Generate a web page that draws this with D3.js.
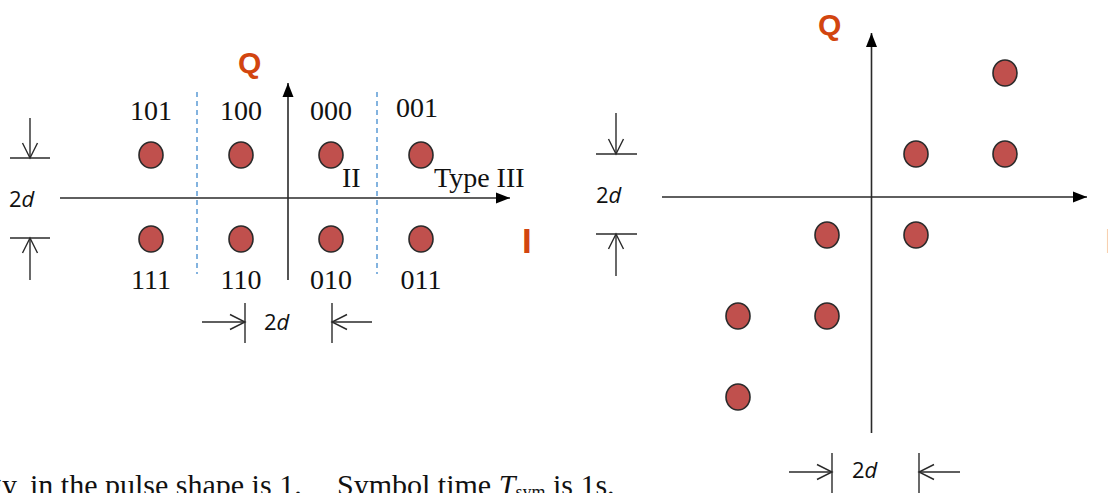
<!DOCTYPE html>
<html>
<head>
<meta charset="utf-8">
<script src="https://cdn.jsdelivr.net/npm/d3@7"></script>
<style>
  body { margin: 0; background: #fff; }
  svg { display: block; }
  .bits { font-family: "Liberation Serif", serif; font-size: 28px; fill: #111; }
  .dim { font-family: "Open Sans", "Liberation Sans", sans-serif; font-size: 22px; fill: #111; }
  .axisLbl { font-family: "Liberation Sans", Arial, sans-serif; font-weight: bold; fill: #d2450f; }
</style>
</head>
<body>
<svg id="vis-svg" width="1108" height="493"></svg>
<script>

// Data: left constellation (Type III), units of d
var leftLabels = ["101", "100", "000", "001", "111", "110", "010", "011"];
var leftI = [-3, -1, 1, 3, -3, -1, 1, 3];
var leftQ = [1, 1, 1, 1, -1, -1, -1, -1];
var leftDecision = [-2, 2];

// Data: right constellation, units of d
var rightI = [3, 1, 3, -1, 1, -3, -1, -3];
var rightQ = [3, 1, 1, -1, -1, -3, -3, -5];

var svg = d3.select('#vis-svg');
var ink = '#2a2a2a';
var dotFill = '#c0504d';

// Scales
var xL = d3.scaleLinear().domain([-1, 1]).range([241, 331]);
var yL = d3.scaleLinear().domain([-1, 1]).range([239, 155]);
var xR = d3.scaleLinear().domain([-1, 1]).range([827, 916]);
var yR = d3.scaleLinear().domain([-1, 1]).range([235, 154]);

// filled arrow head for axes
function axisArrow(g, x1, y1, x2, y2) {
  g.append('line')
    .attr('x1', x1).attr('y1', y1).attr('x2', x2).attr('y2', y2)
    .attr('stroke', ink).attr('stroke-width', 1.6);
  var a = Math.atan2(y2 - y1, x2 - x1), L = 14, W = 5.5;
  var bx = x2 - L * Math.cos(a), by = y2 - L * Math.sin(a);
  var px = -Math.sin(a) * W, py = Math.cos(a) * W;
  g.append('path')
    .attr('d', 'M' + x2 + ',' + y2 + 'L' + (bx + px) + ',' + (by + py) + 'L' + (bx - px) + ',' + (by - py) + 'Z')
    .attr('fill', '#000');
}

// open arrow for dimension marks
function dimArrow(g, x1, y1, x2, y2) {
  g.append('line')
    .attr('x1', x1).attr('y1', y1).attr('x2', x2).attr('y2', y2)
    .attr('stroke', ink).attr('stroke-width', 1.4);
  var a = Math.atan2(y2 - y1, x2 - x1), L = 15, W = 7.5;
  var bx = x2 - L * Math.cos(a), by = y2 - L * Math.sin(a);
  var px = -Math.sin(a) * W, py = Math.cos(a) * W;
  g.append('path')
    .attr('d', 'M' + (bx + px) + ',' + (by + py) + 'L' + x2 + ',' + y2 + 'L' + (bx - px) + ',' + (by - py))
    .attr('fill', 'none').attr('stroke', ink).attr('stroke-width', 1.4);
}

function tick(g, x1, y1, x2, y2) {
  g.append('line')
    .attr('x1', x1).attr('y1', y1).attr('x2', x2).attr('y2', y2)
    .attr('stroke', ink).attr('stroke-width', 1.4);
}

function twoD(g, x, y) {
  var t = g.append('text').attr('class', 'dim').attr('x', x).attr('y', y);
  t.append('tspan').text('2');
  t.append('tspan').style('font-style', 'italic').text('d');
}

// ---------- Left panel ----------
var left = svg.append('g');

// decision boundaries
left.selectAll('line.dec')
  .data(leftDecision)
  .enter().append('line')
  .attr('class', 'dec')
  .attr('x1', function(d) { return xL(d) + 1; }).attr('x2', function(d) { return xL(d) + 1; })
  .attr('y1', 92).attr('y2', 274)
  .attr('stroke', '#5b9bd5').attr('stroke-width', 1.5)
  .attr('stroke-dasharray', '5,4');

// axes
axisArrow(left, 60, 198, 510, 198);
axisArrow(left, xL(0) + 2, 280, xL(0) + 2, 83);

// points
var leftData = leftI.map(function(v, i) { return { i: v, q: leftQ[i], lab: leftLabels[i] }; });
left.selectAll('ellipse')
  .data(leftData)
  .enter().append('ellipse')
  .attr('cx', function(d) { return xL(d.i); })
  .attr('cy', function(d) { return yL(d.q); })
  .attr('rx', 12).attr('ry', 13)
  .attr('fill', dotFill).attr('stroke', ink).attr('stroke-width', 1.6);

// bit labels
left.selectAll('text.bits')
  .data(leftData)
  .enter().append('text')
  .attr('class', 'bits')
  .attr('text-anchor', 'middle')
  .attr('x', function(d) { return xL(d.i) + (d.lab === '001' ? -4 : 0); })
  .attr('y', function(d) { return d.q > 0 ? yL(d.q) - 35 + (d.lab === '001' ? -3 : 0) : yL(d.q) + 50; })
  .text(function(d) { return d.lab; });

left.append('text').attr('class', 'bits').attr('x', 342).attr('y', 187).text('II');
left.append('text').attr('class', 'bits').attr('x', 434).attr('y', 187).text('Type III');

left.append('text').attr('class', 'axisLbl').style('font-size', '30px')
  .attr('x', 238).attr('y', 73).text('Q');
left.append('text').attr('class', 'axisLbl').style('font-size', '35px')
  .attr('x', 522).attr('y', 253).text('I');

// vertical 2d
tick(left, 10, 158, 50, 158);
tick(left, 10, 238, 50, 238);
dimArrow(left, 30, 118, 30, 158);
dimArrow(left, 30, 280, 30, 238);
twoD(left, 9, 207);

// horizontal 2d
tick(left, xL(-1) + 4, 303, xL(-1) + 4, 343);
tick(left, xL(1) + 1, 303, xL(1) + 1, 343);
dimArrow(left, 202, 322, xL(-1) + 4, 322);
dimArrow(left, 372, 322, xL(1) + 1, 322);
twoD(left, 264, 330);

// ---------- Right panel ----------
var right = svg.append('g');

axisArrow(right, 662, 197, 1087, 197);
axisArrow(right, xR(0), 433, xR(0), 33);

right.selectAll('ellipse')
  .data(rightI.map(function(v, i) { return { i: v, q: rightQ[i] }; }))
  .enter().append('ellipse')
  .attr('cx', function(d) { return xR(d.i); })
  .attr('cy', function(d) { return yR(d.q); })
  .attr('rx', 12).attr('ry', 13)
  .attr('fill', dotFill).attr('stroke', ink).attr('stroke-width', 1.6);

right.append('text').attr('class', 'axisLbl').style('font-size', '30px')
  .attr('x', 818).attr('y', 35).text('Q');
right.append('text').attr('class', 'axisLbl').style('font-size', '35px')
  .attr('x', 1105).attr('y', 253).style('opacity', 0.35).text('I');

// vertical 2d
tick(right, 596, yR(1), 637, yR(1));
tick(right, 596, yR(-1) - 1, 637, yR(-1) - 1);
dimArrow(right, 616, 113, 616, yR(1));
dimArrow(right, 616, 276, 616, yR(-1) - 1);
twoD(right, 596, 203);

// horizontal 2d
tick(right, 832, 453, 832, 495);
tick(right, 919, 453, 919, 495);
dimArrow(right, 789, 472, 832, 472);
dimArrow(right, 960, 472, 919, 472);
twoD(right, 852, 478);

// ---------- cut-off caption ----------
var cap = svg.append('text')
  .attr('y', 495)
  .style('font-family', '"Liberation Serif", serif')
  .style('font-size', '30px')
  .attr('fill', '#111');
cap.append('tspan').attr('x', -13).text('gy');
cap.append('tspan').attr('x', 30).text('in the pulse shape is 1.');
cap.append('tspan').attr('x', 337).text('Symbol time ');
cap.append('tspan').style('font-style', 'italic').text('T');
cap.append('tspan').style('font-size', '18px').attr('dy', 3).text('sym');
cap.append('tspan').attr('dy', -3).text(' is 1s.');

</script>
</body>
</html>
